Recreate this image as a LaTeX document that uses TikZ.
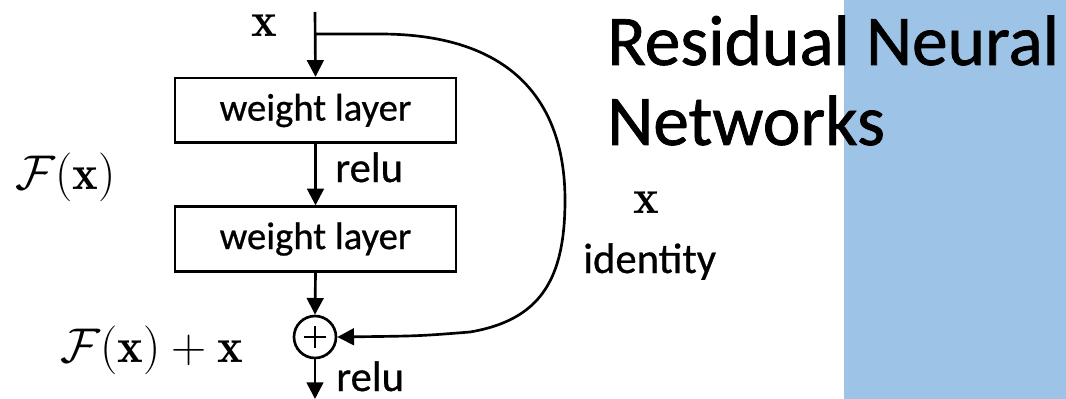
\documentclass[tikz,border=0pt]{standalone}
\usepackage{fontspec}
\newfontfamily\calib[FakeBold=0.6]{Carlito}
\newfontfamily\calibtitle[FakeBold=1]{Carlito}
\usetikzlibrary{arrows.meta}
\definecolor{panelblue}{HTML}{9DC3E6}
% large formula: Huge math scaled up
\newcommand{\bigmath}[1]{\scalebox{1.47}{\fontsize{24.88}{30}\selectfont$#1$}}
\begin{document}
\begin{tikzpicture}[x=0.75pt,y=-0.75pt,
  wire/.style={line width=2pt,-{Triangle[length=12.5pt,width=12.5pt]}},
  plainwire/.style={line width=2pt},
  layerbox/.style={draw,line width=2pt,minimum width=210.75pt,minimum height=48.5pt,
    inner sep=0pt,font=\calib\fontsize{29}{34}\selectfont},
  sumnode/.style={draw,circle,line width=2pt,minimum size=31.5pt,inner sep=0pt},
  lbl/.style={inner sep=0pt,font=\calib\fontsize{32}{38}\selectfont},
  mathlbl/.style={inner sep=0pt},
  titlelbl/.style={inner sep=0pt,font=\calibtitle\fontsize{53.5}{60}\selectfont}]
% page and blue side panel
\useasboundingbox (0,0) rectangle (1066,399);
\fill[white] (0,0) rectangle (1066,399);
\fill[panelblue] (844,0) rectangle (1066,399);

% title
\node[titlelbl,anchor=base west] (title1) at (607,65) {Residual Neural};
\node[titlelbl,anchor=base west] (title2) at (607,145) {Networks};

% residual block
\coordinate (in) at (315,12);
\coordinate (split) at (315,34);
\node[layerbox] (w1) at (315.5,110.5) {weight layer};
\node[layerbox] (w2) at (315.5,239) {weight layer};
\node[sumnode] (plus) at (315,337) {};
\draw[plainwire] ([xshift=-8pt]plus.center) -- ([xshift=8pt]plus.center);
\draw[plainwire] ([yshift=-8pt]plus.center) -- ([yshift=8pt]plus.center);
\coordinate (out) at (315,399);

\draw[wire] (in) -- (w1.north);
\draw[wire] (w1.south) -- (w2.north);
\draw[wire] (w2.south) -- (plus.north);
\draw[wire] (plus.south) -- (out);

% identity shortcut
\coordinate (s1) at (380,34);
\coordinate (s2) at (565,200);
\coordinate (s3) at (470,332);
\draw[wire] (split) -- (s1)
  .. controls (520,34) and (565,110) .. (s2)
  .. controls (565,280) and (540,320) .. (s3)
  .. controls (420,336) .. (plus.east);

% labels
\node[mathlbl,anchor=base] (xin) at (264,37) {\bigmath{\mathbf{x}}};
\node[mathlbl,anchor=base west] (fx) at (15,189) {\bigmath{\mathcal{F}(\mathbf{x})}};
\node[mathlbl,anchor=base west] (fxx) at (60,362) {\bigmath{\mathcal{F}(\mathbf{x})+\mathbf{x}}};
\node[mathlbl,anchor=base] (xid) at (646,213) {\bigmath{\mathbf{x}}};
\node[lbl,anchor=base west] (idl) at (583,273) {identity};
\node[lbl,anchor=base west] (relu1) at (335,182) {relu};
\node[lbl,anchor=base west] (relu2) at (336,391) {relu};
\end{tikzpicture}
\end{document}
